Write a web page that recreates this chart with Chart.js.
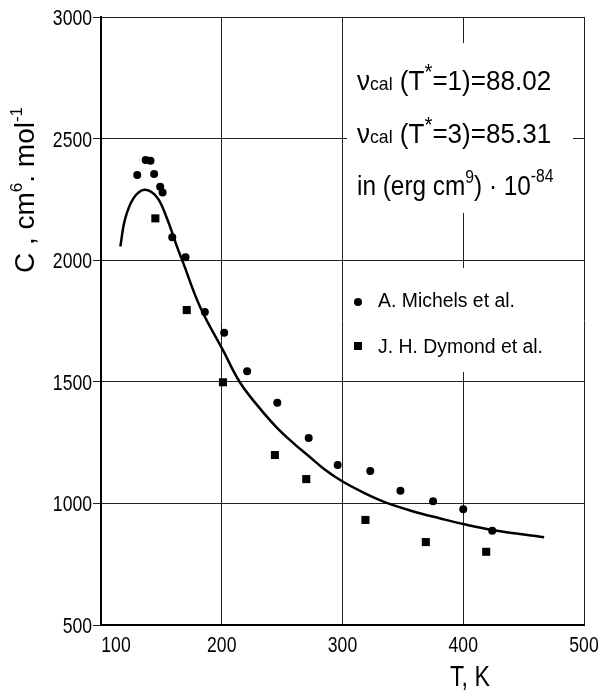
<!DOCTYPE html>
<html>
<head>
<meta charset="utf-8">
<script src="https://cdn.jsdelivr.net/npm/chart.js@4"></script>
<style>
  body { margin: 0; background: #fff; }
</style>
</head>
<body>
<canvas id="chart" width="600" height="691"></canvas>
<script>
// values
const curveT = [116, 120, 127, 136, 146, 154, 163, 168, 182, 201, 215, 230, 245, 260, 272, 285, 299, 317, 335, 358, 381, 400, 425, 467];
const curveC = [2056, 2170, 2255, 2290, 2261, 2180, 2055, 1990, 1809, 1630, 1498, 1400, 1315, 1245, 1195, 1140, 1093, 1045, 1005, 968, 938, 915, 890, 861];

const michelsT = [130, 137, 141, 144, 149, 151, 159, 170, 186, 202, 221, 246, 272, 296, 323, 348, 375, 400, 424];
const michelsC = [2350, 2412, 2409, 2354, 2302, 2278, 2094, 2012, 1787, 1702, 1543, 1414, 1269, 1158, 1133, 1052, 1009, 976, 888];

const dymondT = [145, 171, 201, 244, 270, 319, 369, 419];
const dymondC = [2172, 1795, 1498, 1199, 1100, 932, 841, 801];

const xTicks = [100, 200, 300, 400, 500];
const yTicks = [500, 1000, 1500, 2000, 2500, 3000];

const FONT = '"Liberation Sans", Arial, sans-serif';
const SX = 0.8; // the original lettering is a narrow DIN style face

const toPoints = (xs, ys) => xs.map((x, i) => ({ x: x, y: ys[i] }));

// width of a list of [text, size, dy] pieces
function runsWidth(ctx, parts, sx) {
  let w = 0;
  for (const p of parts) {
    ctx.font = p[1] + "px " + FONT;
    w += ctx.measureText(p[0]).width * sx;
  }
  return w;
}
// draws the pieces one after the other, squeezed by sx
function drawRuns(ctx, x, y, parts, sx, align) {
  if (align === "center") x -= runsWidth(ctx, parts, sx) / 2;
  if (align === "right") x -= runsWidth(ctx, parts, sx);
  for (const p of parts) {
    ctx.font = p[1] + "px " + FONT;
    ctx.save();
    ctx.translate(x, y + (p[2] || 0));
    ctx.scale(sx, 1);
    ctx.textAlign = "left";
    ctx.fillText(p[0], 0, 0);
    ctx.restore();
    x += ctx.measureText(p[0]).width * sx;
  }
}

const textPlugin = {
  id: "texts",
  afterDraw(chart) {
    const ctx = chart.ctx;
    const xs = chart.scales.x;
    const ys = chart.scales.y;
    ctx.save();
    ctx.textBaseline = "alphabetic";

    // white boxes behind the annotations (they hide the grid)
    ctx.fillStyle = "#fff";
    ctx.fillRect(347, 43, 226, 170);
    ctx.fillRect(345, 268, 234, 104);

    ctx.fillStyle = "#000";

    // tick labels
    yTicks.forEach((v) => {
      drawRuns(ctx, 92, ys.getPixelForValue(v) + 8, [[String(v), 22]], SX, "right");
    });
    xTicks.forEach((v, i) => {
      const px = xs.getPixelForValue(v) + (i === 0 ? 15 : 0);
      drawRuns(ctx, px, 652, [[String(v), 22]], SX, "center");
    });

    // annotation
    drawRuns(ctx, 357, 90, [["ν", 28], ["cal", 19], [" (T", 28], ["*", 22, -11], ["=1)=88.02", 28]], 0.93);
    drawRuns(ctx, 357, 143, [["ν", 28], ["cal", 19], [" (T", 28], ["*", 22, -11], ["=3)=85.31", 28]], 0.93);
    drawRuns(ctx, 357, 195, [["in (erg cm", 28], ["9", 18, -12], [") · 10", 28], ["-84", 18, -13]], 0.87);

    // legend
    const ds = chart.data.datasets;
    ctx.beginPath();
    ctx.arc(358, 302, 4, 0, Math.PI * 2);
    ctx.fill();
    ctx.fillRect(354, 342, 8, 8);
    drawRuns(ctx, 378, 307, [[ds[1].label, 20]], 0.97);
    drawRuns(ctx, 378, 353, [[ds[2].label, 20]], 0.97);

    // axis titles
    drawRuns(ctx, 470, 686, [["T, K", 29]], SX, "center");

    const yTitle = [["C , cm", 28], ["6", 17, -12], [". mol", 28], ["-1", 17, -12]];
    const w = runsWidth(ctx, yTitle, 1);
    ctx.translate(34, 190 + w / 2);
    ctx.rotate(-Math.PI / 2);
    drawRuns(ctx, 0, 0, yTitle, 1);
    ctx.restore();
  }
};

new Chart(document.getElementById("chart"), {
  type: "scatter",
  data: {
    datasets: [
      {
        label: "calc",
        data: toPoints(curveT, curveC),
        showLine: true,
        borderColor: "#000",
        borderWidth: 2.5,
        pointRadius: 0,
        tension: 0.4,
      },
      {
        label: "A. Michels et al.",
        data: toPoints(michelsT, michelsC),
        pointStyle: "circle",
        pointRadius: 4,
        backgroundColor: "#000",
        borderColor: "#000",
        borderWidth: 0,
      },
      {
        label: "J. H. Dymond et al.",
        data: toPoints(dymondT, dymondC),
        pointStyle: "rect",
        pointRadius: 5.7,
        backgroundColor: "#000",
        borderColor: "#000",
        borderWidth: 0,
      },
    ],
  },
  options: {
    responsive: false,
    animation: false,
    layout: { padding: { top: 17, right: 16, left: 0, bottom: 0 } },
    plugins: {
      legend: { display: false },
      tooltip: { enabled: false },
    },
    scales: {
      x: {
        type: "linear",
        min: 100,
        max: 500,
        afterBuildTicks: (s) => { s.ticks = xTicks.map((v) => ({ value: v })); },
        afterFit: (s) => { s.height = 66; },
        ticks: { display: false },
        grid: { color: "#222", lineWidth: 1, drawTicks: false },
        border: { color: "#000", width: 2 },
      },
      y: {
        type: "linear",
        min: 500,
        max: 3000,
        afterBuildTicks: (s) => { s.ticks = yTicks.map((v) => ({ value: v })); },
        afterFit: (s) => { s.width = 101; },
        ticks: { display: false },
        grid: { color: "#222", lineWidth: 1, tickLength: 8 },
        border: { color: "#000", width: 2 },
      },
    },
  },
  plugins: [textPlugin],
});
</script>
</body>
</html>
